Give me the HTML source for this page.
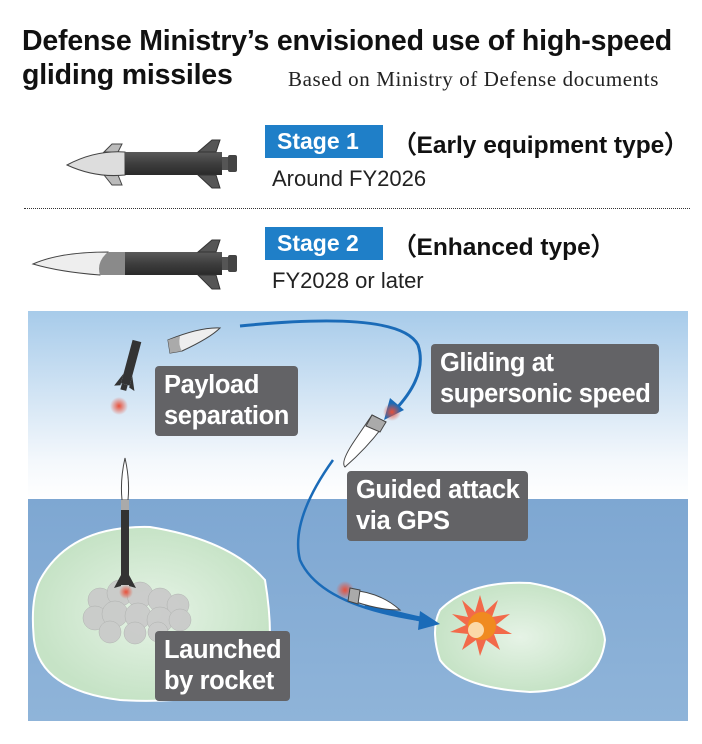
<!DOCTYPE html>
<html><head><meta charset="utf-8"><style>
body{margin:0;width:702px;height:744px;background:#fff;font-family:"Liberation Sans",sans-serif;position:relative;overflow:hidden}
.a{position:absolute;white-space:nowrap}
.t{font-weight:bold;font-size:28.5px;color:#111;left:22px;letter-spacing:-0.2px}
.stg{background:#1f7fc8;color:#fff;font-weight:bold;font-size:23px;padding:0 0 0 12px;width:106px;height:33px;line-height:33px}
.lab{background:#636366;color:#fff;font-weight:bold;font-size:25.5px;line-height:31px;padding:4px 9px;border-radius:4px;letter-spacing:-0.4px}
</style></head><body>
<div class="a t" style="top:25px">Defense Ministry’s envisioned use of high-speed</div>
<div class="a t" style="top:59px">gliding missiles</div>
<div class="a" style="top:67px;left:288px;font-family:'Liberation Serif',serif;font-size:21px;color:#222;letter-spacing:0.6px">Based on Ministry of Defense documents</div>

<div class="a stg" style="left:265px;top:125px">Stage 1</div>
<div class="a" style="left:392px;top:126px;font-weight:bold;font-size:24.5px;color:#111">（Early equipment type）</div>
<div class="a" style="left:272px;top:166px;font-size:22px;color:#222">Around FY2026</div>
<div class="a" style="left:24px;top:208px;width:666px;border-top:1px dotted #333"></div>
<div class="a stg" style="left:265px;top:227px">Stage 2</div>
<div class="a" style="left:392px;top:228px;font-weight:bold;font-size:24.5px;color:#111">（Enhanced type）</div>
<div class="a" style="left:272px;top:268px;font-size:22px;color:#222">FY2028 or later</div>

<svg class="a" style="left:0;top:0" width="702" height="744">
<defs>
<linearGradient id="sky" x1="0" y1="0" x2="0" y2="1"><stop offset="0" stop-color="#a7cbea"/><stop offset="0.8" stop-color="#f4f8fc"/><stop offset="1" stop-color="#fff"/></linearGradient>
<linearGradient id="sea" x1="0" y1="0" x2="0" y2="1"><stop offset="0" stop-color="#7ea7d2"/><stop offset="1" stop-color="#8fb4d9"/></linearGradient>
<radialGradient id="isl"><stop offset="0" stop-color="#e6f3e6"/><stop offset="1" stop-color="#c6e3c6"/></radialGradient>
<radialGradient id="glow"><stop offset="0" stop-color="#e8503a"/><stop offset="1" stop-color="#e8503a" stop-opacity="0"/></radialGradient>
<linearGradient id="body" x1="0" y1="0" x2="0" y2="1"><stop offset="0" stop-color="#5a5a5a"/><stop offset=".5" stop-color="#3e3e3e"/><stop offset="1" stop-color="#2a2a2a"/></linearGradient>
</defs>
<path d="M104 152 L112 144 L122 144 L118 152Z M104 175 L112 185 L122 185 L118 175Z" fill="#bbb" stroke="#444"/>
<path d="M67 165 Q95 150 125 152 L125 175 Q95 178 67 165Z" fill="#ddd" stroke="#444"/>
<rect x="125" y="152" width="97" height="23" fill="url(#body)"/>
<path d="M198 152 L212 140 L220 140 L216 152Z M198 175 L212 188 L220 188 L216 175Z" fill="#555" stroke="#333"/>
<rect x="222" y="157" width="6" height="13" fill="#555"/><rect x="228" y="155" width="9" height="17" rx="2" fill="#444"/>
<path d="M33 264 Q60 252 108 252 L100 275 Q60 272 33 264Z" fill="#eee" stroke="#444"/>
<path d="M108 252 L125 252 L125 275 L100 275 Q96 262 108 252Z" fill="#8a8a8a"/>
<rect x="125" y="252" width="97" height="23" fill="url(#body)"/>
<path d="M198 252 L212 240 L220 240 L216 252Z M198 275 L212 289 L220 289 L216 275Z" fill="#555" stroke="#333"/>
<rect x="222" y="257" width="6" height="13" fill="#555"/><rect x="228" y="255" width="9" height="17" rx="2" fill="#444"/>

<rect x="28" y="311" width="660" height="188" fill="url(#sky)"/>
<rect x="28" y="499" width="660" height="222" fill="url(#sea)"/>
<path d="M40 580 Q70 525 150 527 Q230 540 265 580 Q275 640 265 680 Q200 705 120 700 Q40 690 34 640 Q30 600 40 580Z" fill="url(#isl)" stroke="#fff" stroke-width="2"/>
<path d="M440 610 Q470 580 530 583 Q600 595 605 640 Q600 690 530 692 Q460 688 440 660 Q430 630 440 610Z" fill="url(#isl)" stroke="#fff" stroke-width="2"/>
<g fill="#c9c9c9" stroke="#aaa" stroke-width="0.5" opacity="0.9">
<circle cx="100" cy="600" r="12"/><circle cx="120" cy="593" r="13"/><circle cx="140" cy="595" r="13"/><circle cx="160" cy="600" r="12"/><circle cx="178" cy="605" r="11"/>
<circle cx="95" cy="618" r="12"/><circle cx="115" cy="614" r="13"/><circle cx="138" cy="616" r="13"/><circle cx="160" cy="620" r="13"/><circle cx="180" cy="620" r="11"/>
<circle cx="110" cy="632" r="11"/><circle cx="135" cy="633" r="11"/><circle cx="158" cy="632" r="10"/>
</g>
<circle cx="126" cy="592" r="7" fill="url(#glow)"/>
<path d="M122 500 Q120 480 125 458 Q130 480 128 500Z" fill="#fff" stroke="#444"/>
<rect x="121" y="500" width="8" height="10" fill="#aaa"/>
<rect x="121" y="510" width="8" height="75" fill="#333"/>
<path d="M121 575 L114 588 L121 586Z M129 575 L136 588 L129 586Z" fill="#333"/>
<circle cx="119" cy="406" r="9" fill="url(#glow)"/>
<g transform="translate(130,365) rotate(15)"><rect x="-4" y="-25" width="9" height="45" fill="#333"/><path d="M-4 10 L-10 24 L-4 22Z M5 10 L11 24 L5 22Z" fill="#333"/><rect x="-3" y="20" width="6" height="6" fill="#333"/></g>
<path d="M168 340 Q200 327 220 328 Q210 338 182 351 L170 353Z" fill="#eee" stroke="#444"/>
<path d="M168 340 L180 336 Q178 345 182 351 L170 353Z" fill="#aaa"/>
<path d="M240 326 Q400 310 418 345 Q428 375 395 410" fill="none" stroke="#1a6bb8" stroke-width="3"/>
<path d="M384 420 L390 398 L404 410Z" fill="#1a6bb8"/>
<circle cx="392" cy="412" r="9" fill="url(#glow)"/>
<path d="M372 415 L386 422 Q370 445 345 467 Q340 462 355 440Z" fill="#fff" stroke="#444"/>
<path d="M372 415 L386 422 L380 432 L366 426Z" fill="#aaa" stroke="#444"/>
<path d="M333 460 Q290 520 300 560 Q320 605 420 620" fill="none" stroke="#1a6bb8" stroke-width="2.5"/>
<path d="M365 605 Q400 615 425 620" fill="none" stroke="#1a6bb8" stroke-width="5"/>
<path d="M440 624 L420 611 L418 630Z" fill="#1a6bb8"/>
<circle cx="345" cy="590" r="9" fill="url(#glow)"/>
<path d="M350 590 Q380 592 400 610 Q380 610 356 602Z" fill="#fff" stroke="#444"/>
<path d="M350 588 L360 590 L358 604 L348 601Z" fill="#aaa" stroke="#444"/>
<polygon points="480,595 485,612 498,600 492,617 510,614 496,625 512,634 494,634 500,650 486,640 480,656 476,640 462,650 468,634 450,632 466,625 452,614 468,617 462,600 475,612" fill="#f26a4a"/>
<circle cx="482" cy="626" r="14" fill="#f08a20"/><circle cx="476" cy="630" r="8" fill="#fbd9a8"/>
</svg>

<div class="a lab" style="left:155px;top:366px">Payload<br>separation</div>
<div class="a lab" style="left:431px;top:344px">Gliding at<br>supersonic speed</div>
<div class="a lab" style="left:347px;top:471px">Guided attack<br>via GPS</div>
<div class="a lab" style="left:155px;top:631px">Launched<br>by rocket</div>
</body></html>
